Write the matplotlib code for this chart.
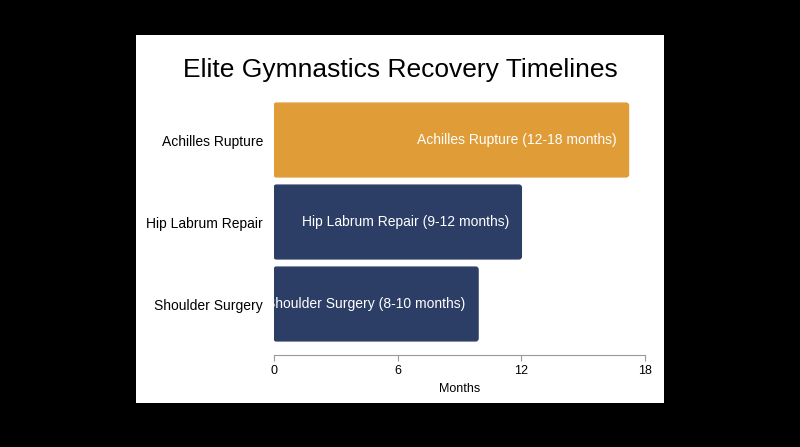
import matplotlib
matplotlib.use("Agg")
import matplotlib.pyplot as plt
from matplotlib.patches import FancyBboxPatch, Rectangle

plt.rcParams['font.family'] = ['Liberation Sans', 'DejaVu Sans']

categories = ["Shoulder Surgery", "Hip Labrum Repair", "Achilles Rupture"]
values = [9.9, 12.0, 17.2]
labels = ["Shoulder Surgery (8-10 months)", "Hip Labrum Repair (9-12 months)", "Achilles Rupture (12-18 months)"]
colors = ["#2c3e66", "#2c3e66", "#e09c36"]
xticks = [0, 6, 12, 18]

fig = plt.figure(figsize=(8, 4.47), dpi=100, facecolor="black")
fig.patches.append(Rectangle((136/800, 1-403/447), 528/800, 368/447, transform=fig.transFigure,
                             facecolor="white", edgecolor="none", zorder=-10))
ax = fig.add_axes([274/800, 0.2058, 371/800, 0.5727])
ax.set_zorder(1)
ax.set_facecolor("none")
ax.set_xlim(0, 18)
ax.set_ylim(-0.622, 2.5)
aspect = (3.122/256) / (18/371)
for i, (v, c, lab) in enumerate(zip(values, colors, labels)):
    p = FancyBboxPatch((0, i-0.45), v, 0.9, boxstyle="round,pad=0,rounding_size=0.12",
                       mutation_aspect=aspect, facecolor=c, edgecolor=c, linewidth=1)
    ax.add_patch(p)
    ax.text(v-0.6, i, lab, ha="right", va="center", color="white", fontsize=10)
ax.set_yticks(range(len(categories)))
ax.set_yticklabels(categories, fontsize=10)
ax.tick_params(axis="y", length=0, pad=8)
ax.set_xticks(xticks)
ax.tick_params(axis="x", labelsize=9, length=4, color="#999999")
ax.set_xlabel("Months", fontsize=9)
for s in ["top", "right", "left"]:
    ax.spines[s].set_visible(False)
ax.spines["bottom"].set_color("#999999")
fig.text(400/800, 1-70/447, "Elite Gymnastics Recovery Timelines", ha="center", va="center", fontsize=19)
fig.savefig("out.png", dpi=100, facecolor="black")
